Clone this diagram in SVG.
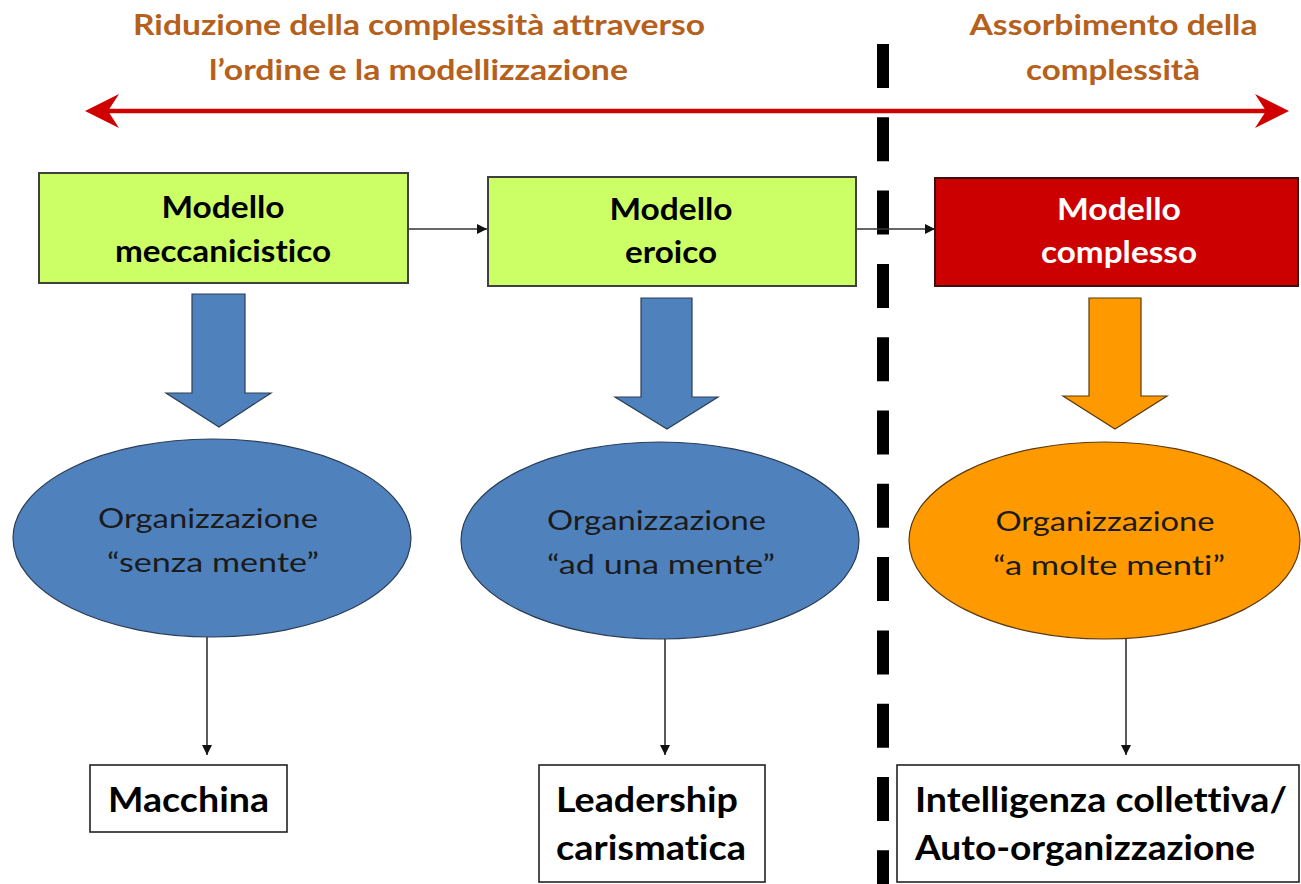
<svg xmlns="http://www.w3.org/2000/svg" width="1301" height="884" viewBox="0 0 1301 884">
<defs>
<style>
.t{font-family:Lato,"Open Sans","Liberation Sans",sans-serif;font-variant-ligatures:none;font-feature-settings:"liga" 0}
.title{font-weight:bold;font-size:28px;fill:#B5601C;text-anchor:middle}
.bx{font-weight:bold;font-size:30px;fill:#000;text-anchor:middle}
.ell{font-size:26px;fill:#1b1b1b;text-anchor:middle}
.out{font-weight:bold;font-size:35px;fill:#000}
.gbox{fill:#CCFF66;stroke:#404040;stroke-width:2}
.rbox{fill:#CC0000;stroke:#3a1010;stroke-width:2}
.wbox{fill:#fff;stroke:#222;stroke-width:1.6}
.blue{fill:#4F81BD;stroke:#2c3e55;stroke-width:1.2}
.orange{fill:#FF9900;stroke:#5a3a10;stroke-width:1.2}
.conn{stroke:#333;stroke-width:1.6;fill:none}
</style>
<marker id="ah" viewBox="0 0 10 10" refX="10" refY="5" markerWidth="10" markerHeight="10" markerUnits="userSpaceOnUse" orient="auto">
<path d="M0,0 L10,5 L0,10 Z" fill="#111"/>
</marker>
</defs>
<rect width="1301" height="884" fill="#fff"/>

<g id="titles" class="t">
<text class="title" x="419" y="35" textLength="572" lengthAdjust="spacingAndGlyphs">Riduzione della complessità attraverso</text>
<text class="title" x="418.5" y="80" textLength="419" lengthAdjust="spacingAndGlyphs">l’ordine e la modellizzazione</text>
<text class="title" x="1113.5" y="35" textLength="288" lengthAdjust="spacingAndGlyphs">Assorbimento della</text>
<text class="title" x="1113" y="80" textLength="174" lengthAdjust="spacingAndGlyphs">complessità</text>
</g>

<g id="axis">
<line x1="105" y1="111" x2="1270" y2="111" stroke="#D00000" stroke-width="4.5"/>
<path d="M85,111 L119,94 L108,111 L119,128 Z" fill="#D00000"/>
<path d="M1289,111 L1255,94 L1266,111 L1255,128 Z" fill="#D00000"/>
</g>

<g id="divider">
<line x1="883" y1="44" x2="883" y2="884" stroke="#000" stroke-width="12" stroke-dasharray="44 29.3"/>
</g>

<g id="connectors">
<line class="conn" x1="409" y1="229" x2="487" y2="229" marker-end="url(#ah)"/>
<line class="conn" x1="857" y1="229" x2="935" y2="229" marker-end="url(#ah)"/>
<line class="conn" x1="207" y1="637" x2="207" y2="755" marker-end="url(#ah)"/>
<line class="conn" x1="665" y1="639" x2="665" y2="755" marker-end="url(#ah)"/>
<line class="conn" x1="1126" y1="639" x2="1126" y2="755" marker-end="url(#ah)"/>
</g>

<g id="modello-meccanicistico" class="t">
<rect class="gbox" x="39" y="173" width="369" height="110"/>
<text class="bx" x="223" y="218" textLength="123" lengthAdjust="spacingAndGlyphs">Modello</text>
<text class="bx" x="223" y="262" textLength="216" lengthAdjust="spacingAndGlyphs">meccanicistico</text>
</g>

<g id="modello-eroico" class="t">
<rect class="gbox" x="488" y="177" width="368" height="109"/>
<text class="bx" x="671" y="220" textLength="123" lengthAdjust="spacingAndGlyphs">Modello</text>
<text class="bx" x="671" y="263" textLength="92" lengthAdjust="spacingAndGlyphs">eroico</text>
</g>

<g id="modello-complesso" class="t">
<rect class="rbox" x="935" y="178" width="363" height="108"/>
<text class="bx" x="1119" y="220" style="fill:#fff" textLength="124" lengthAdjust="spacingAndGlyphs">Modello</text>
<text class="bx" x="1119" y="263" style="fill:#fff" textLength="156" lengthAdjust="spacingAndGlyphs">complesso</text>
</g>

<g id="block-arrow-1">
<path class="blue" d="M192,294 L245,294 L245,393 L271,393 L219,427 L166,393 L192,393 Z"/>
</g>
<g id="block-arrow-2">
<path class="blue" d="M641,298 L692,298 L692,397 L718,397 L667,429 L615,397 L641,397 Z"/>
</g>
<g id="block-arrow-3">
<path class="orange" d="M1089,298 L1141,298 L1141,396 L1167,396 L1115,429 L1063,396 L1089,396 Z"/>
</g>

<g id="org-senza-mente" class="t">
<ellipse class="blue" cx="212" cy="538" rx="199" ry="99"/>
<text class="ell" x="208" y="528" textLength="220" lengthAdjust="spacingAndGlyphs">Organizzazione</text>
<text class="ell" x="213" y="572" textLength="212" lengthAdjust="spacingAndGlyphs">“senza mente”</text>
</g>

<g id="org-una-mente" class="t">
<ellipse class="blue" cx="660" cy="540.5" rx="199" ry="98.5"/>
<text class="ell" x="656.5" y="530" textLength="219" lengthAdjust="spacingAndGlyphs">Organizzazione</text>
<text class="ell" x="661" y="574" textLength="228" lengthAdjust="spacingAndGlyphs">“ad una mente”</text>
</g>

<g id="org-molte-menti" class="t">
<ellipse class="orange" cx="1104.5" cy="540.5" rx="195.5" ry="98.5"/>
<text class="ell" x="1105" y="531" textLength="219" lengthAdjust="spacingAndGlyphs">Organizzazione</text>
<text class="ell" x="1109" y="575" textLength="232" lengthAdjust="spacingAndGlyphs">“a molte menti”</text>
</g>

<g id="macchina" class="t">
<rect class="wbox" x="90" y="765" width="197" height="67"/>
<text class="out" x="108" y="812" textLength="161" lengthAdjust="spacingAndGlyphs">Macchina</text>
</g>

<g id="leadership" class="t">
<rect class="wbox" x="539" y="765" width="226" height="117"/>
<text class="out" x="556" y="812" textLength="182" lengthAdjust="spacingAndGlyphs">Leadership</text>
<text class="out" x="556" y="860" textLength="190" lengthAdjust="spacingAndGlyphs">carismatica</text>
</g>

<g id="intelligenza" class="t">
<rect class="wbox" x="897" y="765" width="402" height="117"/>
<text class="out" x="915" y="812" textLength="372" lengthAdjust="spacingAndGlyphs">Intelligenza collettiva/</text>
<text class="out" x="915" y="860" textLength="340" lengthAdjust="spacingAndGlyphs">Auto-organizzazione</text>
</g>
</svg>
